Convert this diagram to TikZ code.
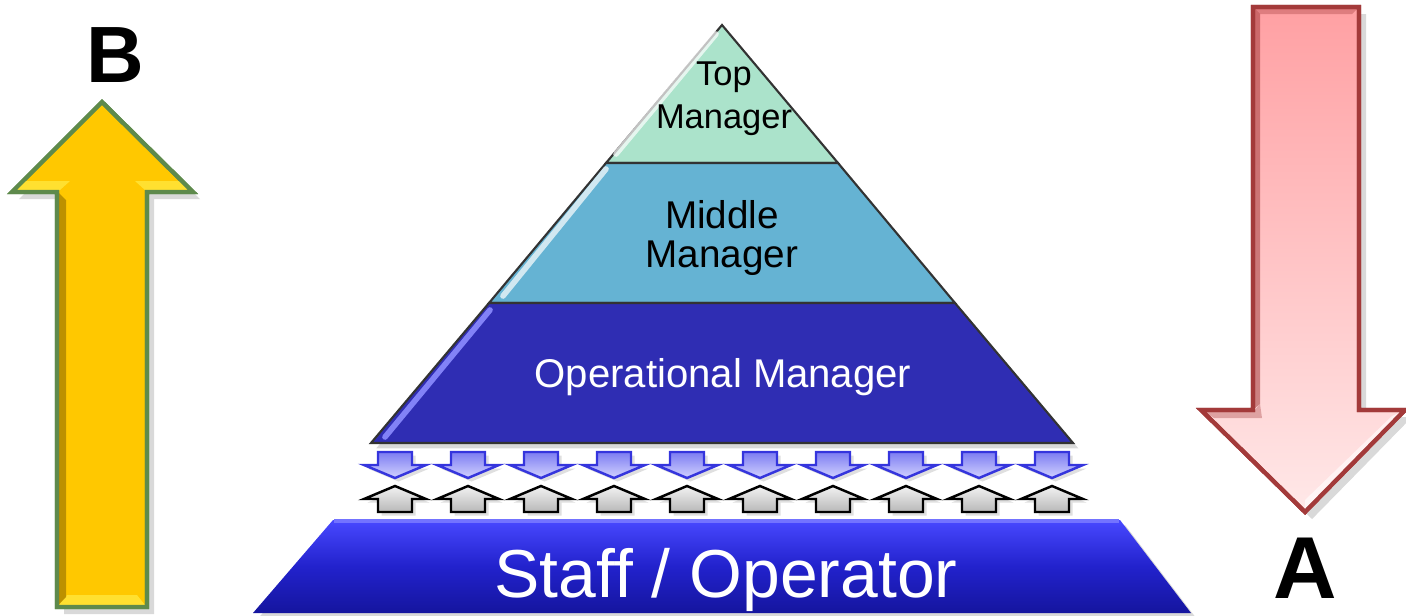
\documentclass[tikz,border=0pt]{standalone}
\usepackage{fontspec}
\setmainfont{Liberation Sans}
\usetikzlibrary{shadows}
\definecolor{topfill}{HTML}{ABE3CB}
\definecolor{midfill}{HTML}{65B3D3}
\definecolor{opfill}{HTML}{2F2DB3}
\definecolor{stafftop}{HTML}{4848FF}
\definecolor{staffmid}{HTML}{2222CC}
\definecolor{staffbot}{HTML}{15159E}
\definecolor{yel}{HTML}{FFC800}
\definecolor{yelhi}{HTML}{FFE030}
\definecolor{yeldk}{HTML}{A07A00}
\definecolor{yeledge}{HTML}{5E8A4C}
\definecolor{redtop}{HTML}{FFA0A3}
\definecolor{redbot}{HTML}{FFE8E8}
\definecolor{rededge}{HTML}{A33A3A}
\definecolor{dnedge}{HTML}{3535DD}
\definecolor{dntop}{HTML}{7C7CF2}
\definecolor{dnbot}{HTML}{D2D2FF}
\tikzset{
  layer/.style={draw=black!80, line width=0.6pt, line join=miter},
  shine/.style={white, line width=1.6pt, opacity=0.7, line cap=round},
  dnarrow/.style={draw=dnedge, line width=0.7pt, top color=dntop, bottom color=dnbot,
    drop shadow={opacity=0.25, shadow xshift=1pt, shadow yshift=-1pt}},
  uparrow/.style={draw=black, line width=0.7pt, top color=white!95!black, bottom color=black!28,
    drop shadow={opacity=0.25, shadow xshift=1pt, shadow yshift=-1pt}},
  bigletter/.style={font=\fontsize{23}{26}\selectfont\bfseries, anchor=base},
}
\begin{document}
\begin{tikzpicture}[x=0.01cm, y=-0.01cm]
\useasboundingbox (0,0) rectangle (1406,615);

% ---------- pyramid ----------
\path[layer, fill=topfill] (722,25) -- (838,163) -- (606,163) -- cycle;
\draw[shine] (716,34) -- (616,154);
\path[layer, fill=midfill] (606,163) -- (838,163) -- (955,303) -- (489,303) -- cycle;
\draw[shine] (606,169) -- (503,296);
\path[layer, fill=opfill, drop shadow={opacity=0.3, shadow xshift=1.5pt, shadow yshift=-1.5pt}]
  (489,303) -- (955,303) -- (1073,443) -- (371,443) -- cycle;
\draw[shine, color=blue!45!white, opacity=0.9] (490,310) -- (385,437);

\node[font=\fontsize{9.8}{11}\selectfont, anchor=base] (top1) at (724,85) {Top};
\node[font=\fontsize{9.8}{11}\selectfont, anchor=base] (top2) at (724,128) {Manager};
\node[font=\fontsize{11}{13}\selectfont, anchor=base] (mid1) at (722,228) {Middle};
\node[font=\fontsize{11}{13}\selectfont, anchor=base] (mid2) at (722,267) {Manager};
\node[font=\fontsize{11.4}{13}\selectfont, text=white, anchor=base] (op) at (723,387) {Operational Manager};

% ---------- small arrows ----------
\foreach \i in {0,...,9}{
  \pgfmathsetmacro{\cx}{395+73*\i}
  \path[dnarrow] (\cx-17,452) -- (\cx+17,452) -- (\cx+17,465) -- (\cx+31,465)
     -- (\cx,478) -- (\cx-31,465) -- (\cx-17,465) -- cycle;
  \path[uparrow] (\cx,486) -- (\cx+31,499) -- (\cx+17,499) -- (\cx+17,512)
     -- (\cx-17,512) -- (\cx-17,499) -- (\cx-31,499) -- cycle;
}

% ---------- staff / operator ----------
\path[top color=stafftop, bottom color=staffbot, middle color=staffmid,
      drop shadow={opacity=0.3, shadow xshift=1.5pt, shadow yshift=-1.5pt}]
  (333,520) -- (1120,520) -- (1191,613) -- (253,613) -- cycle;
\draw[blue!55!white, line width=1pt] (334,521) -- (1119,521);
\node[font=\fontsize{19.3}{22}\selectfont, text=white, anchor=base] (staff) at (726,597) {Staff / Operator};

% ---------- left yellow arrow ----------
\path[fill=yel, draw=yeledge, line width=1.2pt, line join=miter,
      drop shadow={opacity=0.3, shadow xshift=2pt, shadow yshift=-2pt}]
  (102,102) -- (193,192) -- (147,192) -- (147,607) -- (57,607) -- (57,192) -- (12,192) -- cycle;
\fill[yelhi] (15,190) -- (60,190) -- (70,181) -- (24,181) -- cycle;
\fill[yelhi] (190,190) -- (145,190) -- (135,181) -- (181,181) -- cycle;
\fill[yelhi] (59,605) -- (145,605) -- (137,595) -- (67,595) -- cycle;
\fill[yeldk, opacity=0.7] (59,193) -- (66,200) -- (66,597) -- (59,604) -- cycle;
\draw[yeledge, line width=1.2pt, line join=miter]
  (102,102) -- (193,192) -- (147,192) -- (147,607) -- (57,607) -- (57,192) -- (12,192) -- cycle;
\node[bigletter, font=\fontsize{22.7}{26}\selectfont\bfseries] (B) at (115,82) {B};

% ---------- right red arrow ----------
\path[top color=redtop, bottom color=redbot, draw=rededge, line width=1.2pt, line join=miter,
      drop shadow={opacity=0.3, shadow xshift=2pt, shadow yshift=-2pt}]
  (1253,7) -- (1359,7) -- (1359,410) -- (1405,410) -- (1305,512) -- (1201,410) -- (1253,410) -- cycle;
\fill[rededge, opacity=0.55] (1254,8) -- (1260,14) -- (1260,404) -- (1254,409) -- cycle;
\fill[rededge, opacity=0.35] (1254,8) -- (1358,8) -- (1352,14) -- (1260,14) -- cycle;
\fill[rededge, opacity=0.35] (1203,411) -- (1254,411) -- (1260,404) -- (1262,418) -- (1214,418) -- cycle;
\fill[white, opacity=0.6] (1403,411) -- (1305,510) -- (1305,500) -- (1392,416) -- cycle;
\draw[rededge, line width=1.2pt, line join=miter]
  (1253,7) -- (1359,7) -- (1359,410) -- (1405,410) -- (1305,512) -- (1201,410) -- (1253,410) -- cycle;
\node[bigletter, font=\fontsize{25}{28}\selectfont\bfseries] (A) at (1305,598) {A};
\end{tikzpicture}
\end{document}
